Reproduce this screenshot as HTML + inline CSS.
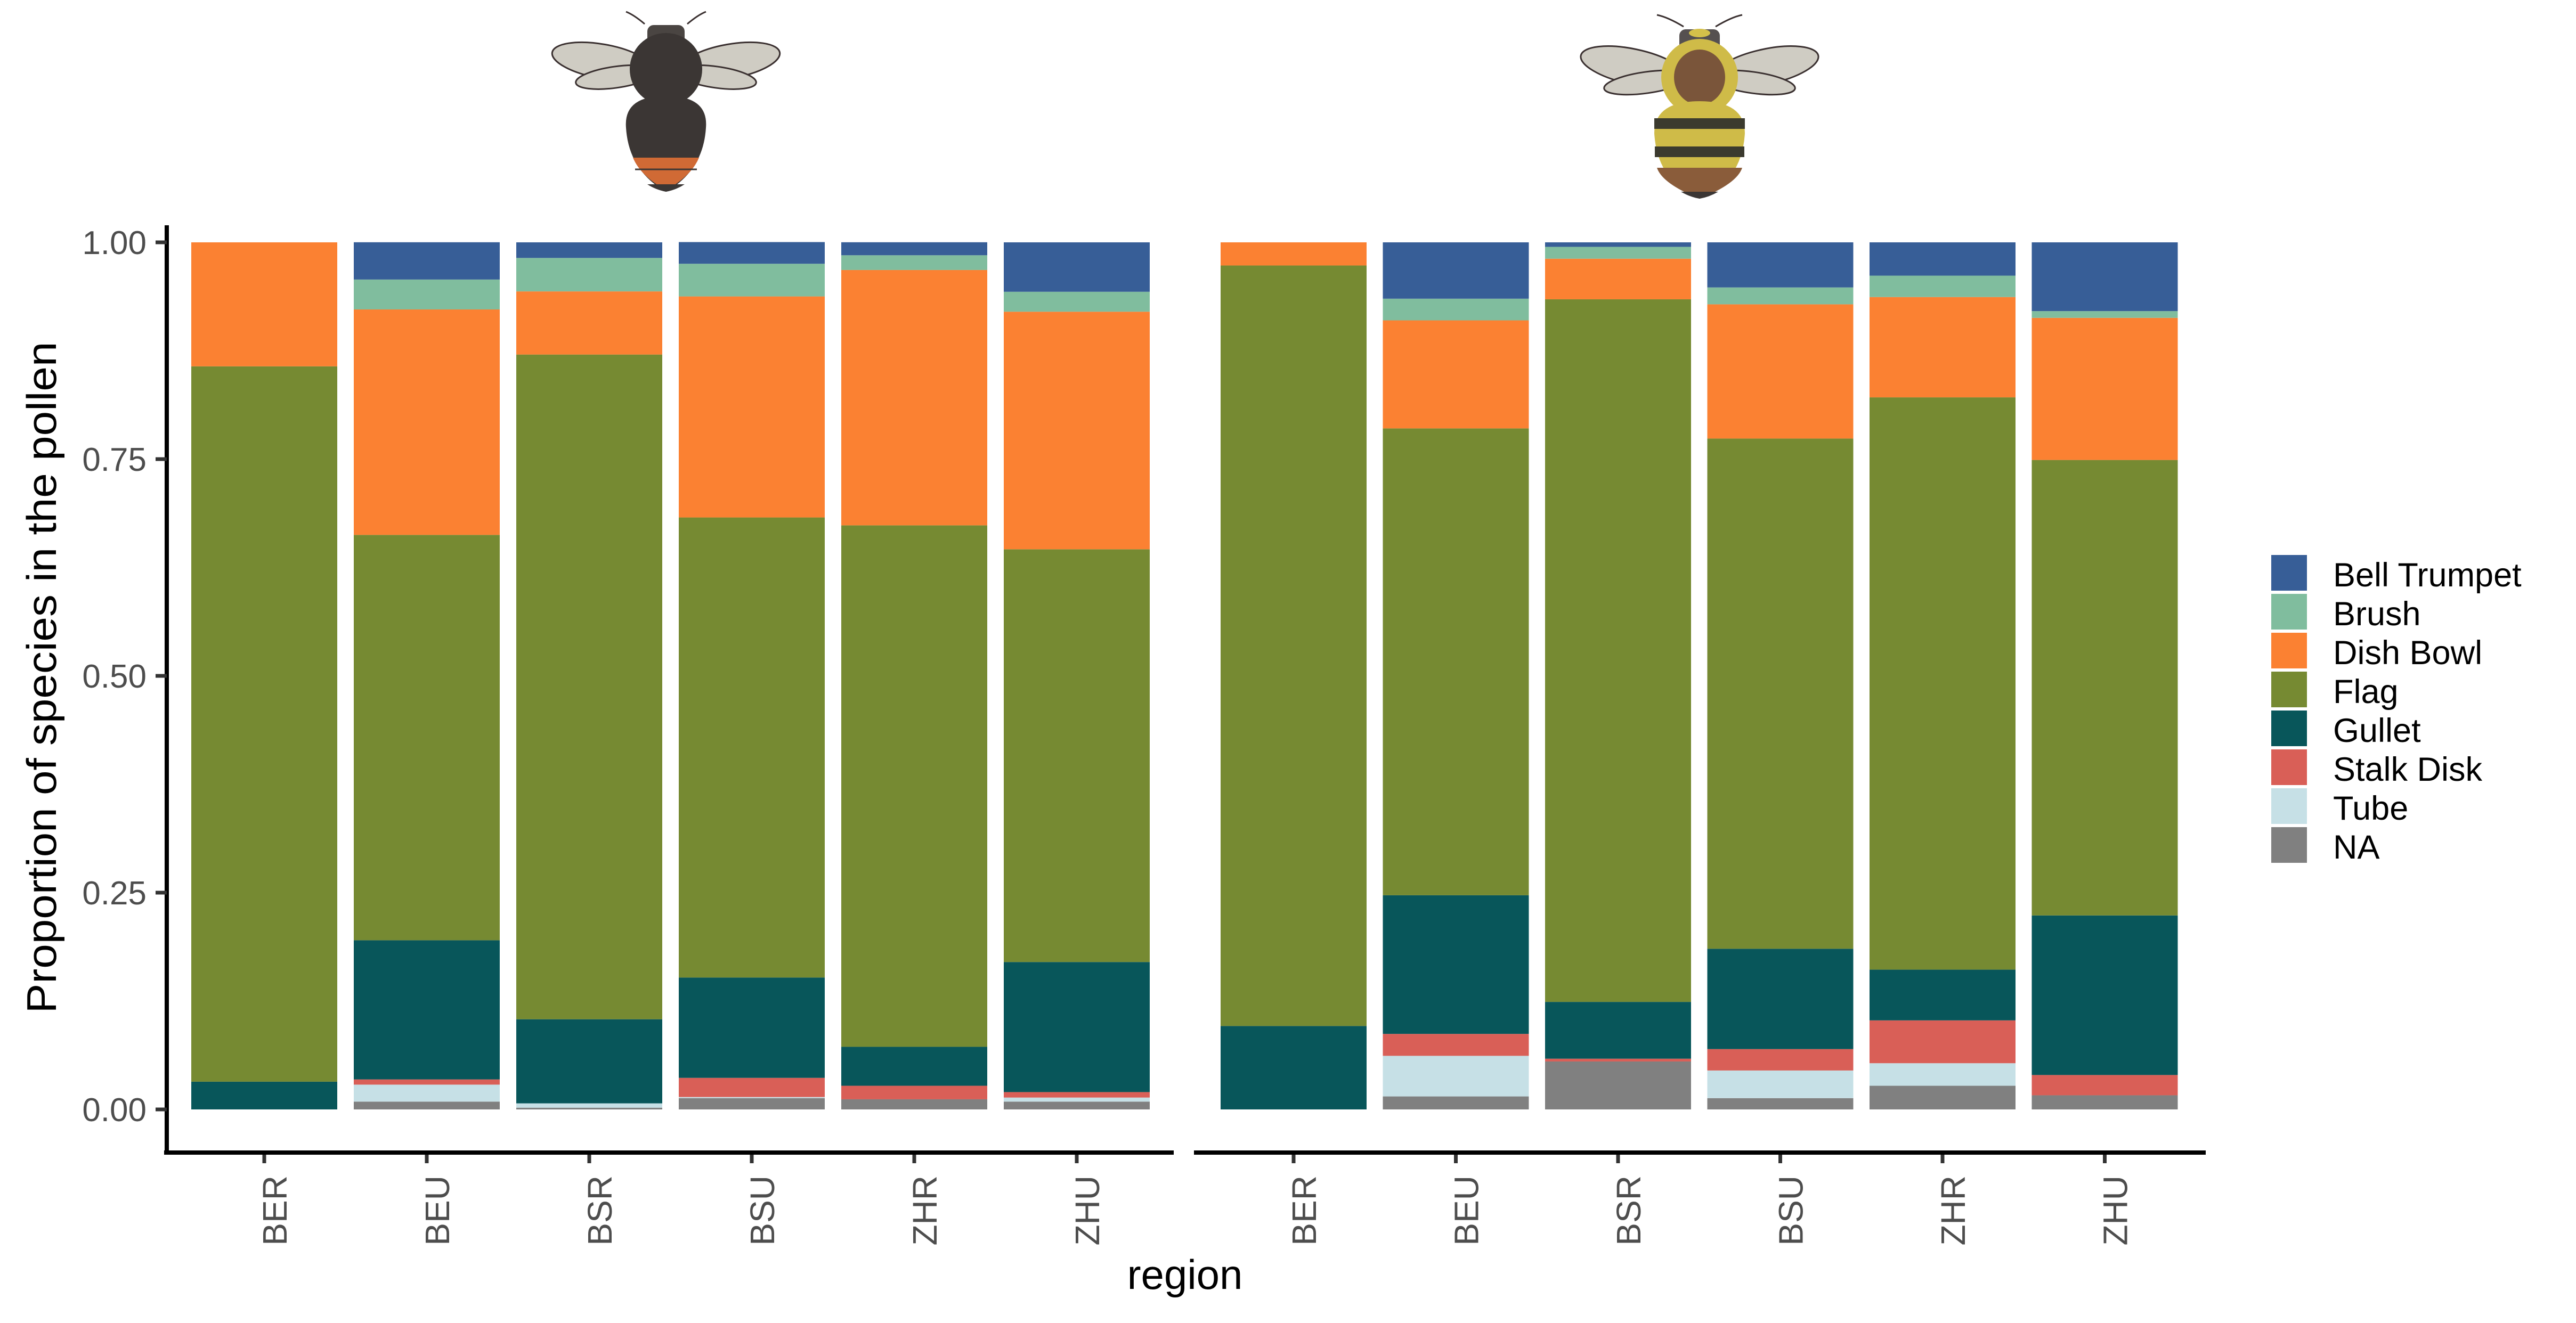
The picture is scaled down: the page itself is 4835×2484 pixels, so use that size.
<!DOCTYPE html>
<html><head><meta charset="utf-8">
<style>
html,body{margin:0;padding:0;background:#fff;}
svg{display:block;font-family:"Liberation Sans",Arial,sans-serif;}
</style></head>
<body>
<svg id="chart" width="4835" height="2484" viewBox="0 0 4835 2484" xmlns="http://www.w3.org/2000/svg">
  <rect width="4835" height="2484" fill="#fff"/>
  <g transform="translate(1250,0)">
    <path d="M-40,45 Q-60,28 -75,22 M40,45 Q60,28 75,22" stroke="#3a3030" stroke-width="3" fill="none"/>
    <ellipse cx="-120" cy="115" rx="95" ry="32" transform="rotate(10 -120 115)" fill="#cfccc3" stroke="#3a3030" stroke-width="3"/>
    <ellipse cx="-95" cy="145" rx="75" ry="20" transform="rotate(-8 -95 145)" fill="#cfccc3" stroke="#3a3030" stroke-width="3"/>
    <ellipse cx="120" cy="115" rx="95" ry="32" transform="rotate(-10 120 115)" fill="#cfccc3" stroke="#3a3030" stroke-width="3"/>
    <ellipse cx="95" cy="145" rx="75" ry="20" transform="rotate(8 95 145)" fill="#cfccc3" stroke="#3a3030" stroke-width="3"/>
    <rect x="-35" y="47" width="70" height="45" rx="12" fill="#4a4542"/>
    <circle cx="0" cy="130" r="68" fill="#3b3634"/>
    <path d="M-75,240 Q-80,180 0,180 Q80,180 75,240 Q70,320 0,360 Q-70,320 -75,240Z" fill="#3b3634"/>
    <path d="M-62,296 L62,296 Q48,330 0,357 Q-48,330 -62,296Z" fill="#d06a35"/>
    <path d="M-58,318 L58,318" stroke="#3b3634" stroke-width="3"/>
    <path d="M-35,346 L35,346 Q20,356 0,360 Q-20,356 -35,346Z" fill="#3b3634"/>
  </g>
  <g transform="translate(3190,0)">
    <path d="M-30,50 Q-60,32 -80,28 M30,50 Q60,32 80,28" stroke="#3a3030" stroke-width="3" fill="none"/>
    <ellipse cx="-125" cy="125" rx="100" ry="33" transform="rotate(12 -125 125)" fill="#cfccc3" stroke="#3a3030" stroke-width="3"/>
    <ellipse cx="-100" cy="155" rx="80" ry="20" transform="rotate(-8 -100 155)" fill="#cfccc3" stroke="#3a3030" stroke-width="3"/>
    <ellipse cx="125" cy="125" rx="100" ry="33" transform="rotate(-12 125 125)" fill="#cfccc3" stroke="#3a3030" stroke-width="3"/>
    <ellipse cx="100" cy="155" rx="80" ry="20" transform="rotate(8 100 155)" fill="#cfccc3" stroke="#3a3030" stroke-width="3"/>
    <rect x="-38" y="55" width="76" height="40" rx="12" fill="#555050"/>
    <ellipse cx="0" cy="62" rx="20" ry="8" fill="#d4c04a"/>
    <circle cx="0" cy="145" r="72" fill="#cfbb48"/>
    <ellipse cx="0" cy="145" rx="48" ry="52" fill="#7a553a"/>
    <path d="M-85,250 Q-85,190 0,190 Q85,190 85,250 Q80,340 0,373 Q-80,340 -85,250Z" fill="#cfbb48"/>
    <rect x="-85" y="222" width="170" height="20" fill="#3b3a2e"/>
    <rect x="-84" y="275" width="168" height="20" fill="#3b3a2e"/>
    <path d="M-80,315 L80,315 Q70,345 0,373 Q-70,345 -80,315Z" fill="#8a5c3a"/>
    <path d="M-35,360 L35,360 Q18,370 0,373 Q-18,370 -35,360Z" fill="#3b3634"/>
  </g>
  <g id="bars"></g>
  <g id="axes"></g>
  <g id="legend"></g>
  <text x="0" y="0" transform="translate(105,1272) rotate(-90)" text-anchor="middle" font-size="78" fill="#000" textLength="1261" lengthAdjust="spacingAndGlyphs">Proportion of species in the pollen</text>
  <text x="2224" y="2420" text-anchor="middle" font-size="78" fill="#000">region</text>
</svg>
<script>
const categories = ["BER","BEU","BSR","BSU","ZHR","ZHU"];
const seriesNames = ["NA","Tube","Stalk Disk","Gullet","Flag","Dish Bowl","Brush","Bell Trumpet"];
const legendOrder = ["Bell Trumpet","Brush","Dish Bowl","Flag","Gullet","Stalk Disk","Tube","NA"];
const yTicks = [0,0.25,0.5,0.75,1];
const yTickLabels = ["0.00","0.25","0.50","0.75","1.00"];
const panel1NA     = [0, 0.009, 0.002, 0.013, 0.0117, 0.009];
const panel1Tube   = [0, 0.0196, 0.005, 0.0013, 0, 0.0047];
const panel1Stalk  = [0, 0.006, 0, 0.0221, 0.0156, 0.0063];
const panel1Gullet = [0.032, 0.1605, 0.097, 0.1157, 0.0449, 0.15];
const panel1Flag   = [0.825, 0.4675, 0.7666, 0.5306, 0.6014, 0.476];
const panel1Dish   = [0.143, 0.26, 0.0728, 0.2549, 0.2945, 0.274];
const panel1Brush  = [0, 0.0345, 0.0386, 0.0377, 0.017, 0.023];
const panel1Bell   = [0, 0.043, 0.018, 0.025, 0.015, 0.057];
const panel2NA     = [0, 0.015, 0.0553, 0.013, 0.0273, 0.0163];
const panel2Tube   = [0, 0.0468, 0, 0.0319, 0.026, 0];
const panel2Stalk  = [0, 0.0253, 0.0032, 0.0247, 0.0494, 0.0234];
const panel2Gullet = [0.0962, 0.1599, 0.0655, 0.1157, 0.0585, 0.184];
const panel2Flag   = [0.8771, 0.5384, 0.8103, 0.5884, 0.66, 0.5253];
const panel2Dish   = [0.0267, 0.1246, 0.0468, 0.1548, 0.1157, 0.1639];
const panel2Brush  = [0, 0.025, 0.0137, 0.0195, 0.0247, 0.0078];
const panel2Bell   = [0, 0.065, 0.0052, 0.052, 0.0384, 0.0793];

const colors = {"Bell Trumpet":"#375E97","Brush":"#80BD9E","Dish Bowl":"#FB8132","Flag":"#768A32","Gullet":"#08565A","Stalk Disk":"#D95F57","Tube":"#C6E0E6","NA":"#808080"};
const NS = "http://www.w3.org/2000/svg";
const Y0 = 2083, Y1 = 455;
function yScale(v){ return Y0 - v*(Y0-Y1); }
const panels = [
  {first:496, step:305, axisStart:312, axisEnd:2203, data:[panel1NA,panel1Tube,panel1Stalk,panel1Gullet,panel1Flag,panel1Dish,panel1Brush,panel1Bell], name:"panel-dark-bee"},
  {first:2428, step:304.5, axisStart:2245, axisEnd:4140, data:[panel2NA,panel2Tube,panel2Stalk,panel2Gullet,panel2Flag,panel2Dish,panel2Brush,panel2Bell], name:"panel-striped-bee"}
];
function xScale(p,i){ return p.first + i*p.step; }
const BW = 274;
function mk(tag, attrs, parent){ const e=document.createElementNS(NS,tag); for(const k in attrs) e.setAttribute(k,attrs[k]); parent.appendChild(e); return e; }
const barsG = document.getElementById('bars');
const axesG = document.getElementById('axes');
panels.forEach((p,pi)=>{
  categories.forEach((c,i)=>{
    let cum = 0;
    const cx = xScale(p,i);
    seriesNames.forEach((s,si)=>{
      const v = p.data[si][i];
      if(v>0){
        const r = mk('rect',{x:cx-BW/2, y:yScale(cum+v), width:BW, height:yScale(cum)-yScale(cum+v), fill:colors[s]}, barsG);
        
        
      }
      cum += v;
    });
    const t = mk('line',{x1:cx,x2:cx,y1:2164,y2:2184,stroke:'#333',"stroke-width":7}, axesG);
    
    
    const lbl = mk('text',{transform:'translate('+(cx+42)+',2207) rotate(-90)', "text-anchor":'end', "font-size":64, fill:'#4d4d4d'}, axesG);
    lbl.textContent = c;
    
    
  });
  const ax = mk('line',{x1:p.axisStart-4,x2:p.axisEnd,y1:2164,y2:2164,stroke:'#000',"stroke-width":8}, axesG);
  
  
});
const yax = mk('line',{x1:313,x2:313,y1:423,y2:2168,stroke:'#000',"stroke-width":8}, axesG);


yTicks.forEach((v,i)=>{
  const y = yScale(v);
  const t = mk('line',{x1:292,x2:313,y1:y,y2:y,stroke:'#333',"stroke-width":7}, axesG);
  
  
  const l = mk('text',{x:275,y:y+22,"text-anchor":'end',"font-size":62,fill:'#4d4d4d'}, axesG);
  l.textContent = yTickLabels[i];
  
  
});
const legG = document.getElementById('legend');
legendOrder.forEach((s,i)=>{
  const top = 1042 + i*73;
  const k = mk('rect',{x:4263,y:top,width:67,height:67,fill:colors[s]}, legG);
  
  
  const t = mk('text',{x:4379,y:top+59,"font-size":63,fill:'#000'}, legG);
  t.textContent = s;
  
  
});
</script>
</body></html>
